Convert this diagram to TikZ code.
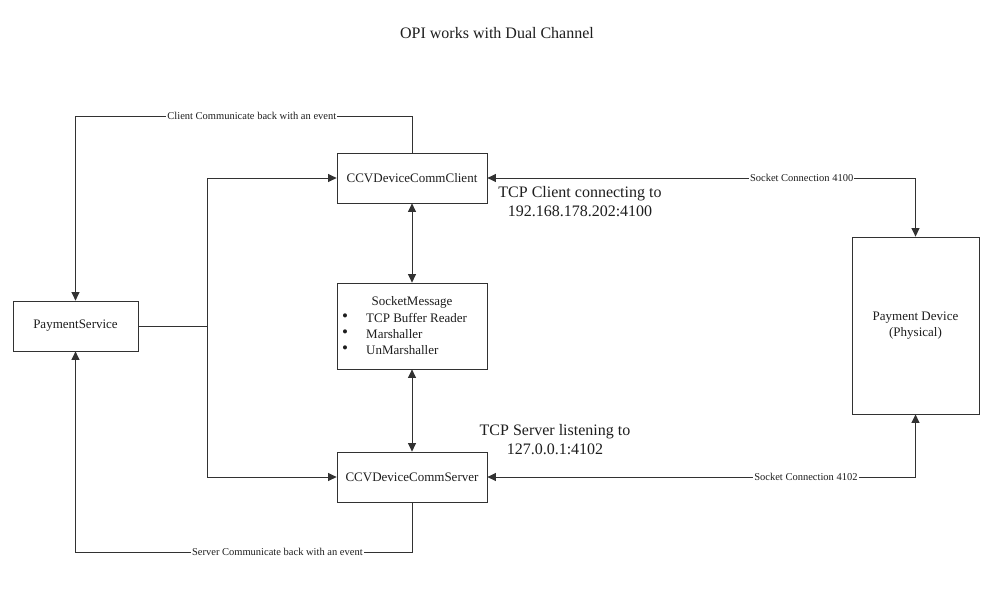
\documentclass[tikz,border=0pt]{standalone}
\usepackage{fontspec}
\setmainfont{Liberation Serif}
\usetikzlibrary{arrows.meta}
\definecolor{linec}{RGB}{50,50,50}
\definecolor{txtc}{RGB}{30,30,30}
\begin{document}
\begin{tikzpicture}[x=1pt,y=-1pt,
  box/.style={draw=linec,line width=0.8pt,fill=white,minimum width=150pt,minimum height=50pt,inner sep=0pt,text=txtc,font=\fontsize{13}{16}\selectfont},
  conn/.style={draw=linec,line width=1pt},
  arr/.style={conn,-{Triangle[length=8.5pt,width=8pt]}},
  darr/.style={conn,{Triangle[length=8.5pt,width=8pt]}-{Triangle[length=8.5pt,width=8pt]}},
  lbl/.style={fill=white,inner sep=1pt,text=txtc,font=\fontsize{10.5}{12}\selectfont},
  big/.style={text=txtc,align=center,font=\fontsize{16}{19}\selectfont},
  txt/.style={text=txtc,inner sep=0pt,font=\fontsize{13}{16}\selectfont},
  bul/.style={text=txtc,inner sep=0pt,text height=4pt,text depth=0pt,font=\fontsize{17}{16}\selectfont}]
\useasboundingbox[fill=white] (0,0) rectangle (1008,597);

\node[big] (title) at (497,33) {OPI works with Dual Channel};

\node[box,minimum width=125pt] (ps) at (75.5,326) {PaymentService};
\node[box] (client) at (412,178) {CCVDeviceCommClient};
\node[box,minimum height=86pt] (sm) at (412,326) {};
\node[box] (server) at (412,477) {CCVDeviceCommServer};
\node[box,minimum width=127pt,minimum height=177pt,align=center] (dev) at (915.5,325.5) {Payment Device\\(Physical)};

\node[txt] (smt) at (412,302) {SocketMessage};
\node[bul] (b1) at (345,319) {•};
\node[txt,anchor=west] (l1) at (366,318) {TCP Buffer Reader};
\node[bul] (b2) at (345,335) {•};
\node[txt,anchor=west] (l2) at (366,334) {Marshaller};
\node[bul] (b3) at (345,351) {•};
\node[txt,anchor=west] (l3) at (366,350) {UnMarshaller};

\node[big] (tcpc) at (580,202) {TCP Client connecting to\\192.168.178.202:4100};
\node[big] (tcps) at (555,440) {TCP Server listening to\\127.0.0.1:4102};

\coordinate (j) at (207,326);
\coordinate (t1) at (412,116);
\coordinate (t2) at (75.5,116);
\coordinate (u1) at (412,552);
\coordinate (u2) at (75.5,552);
\coordinate (s1) at (915.5,178);
\coordinate (s2) at (915.5,477);

\draw[conn] (ps.east) -- (j);
\draw[arr] (j) |- (client.west);
\draw[arr] (j) |- (server.west);

\draw[arr] (client.north) -- (t1) -- node[lbl,pos=0.476] (lc) {Client Communicate back with an event} (t2) -- (ps.north);
\draw[arr] (server.south) -- (u1) -- node[lbl,pos=0.40] (ls) {Server Communicate back with an event} (u2) -- (ps.south);

\draw[darr] (client.south) -- (sm.north);
\draw[darr] (sm.south) -- (server.north);

\draw[darr] (dev.north) -- (s1) -- node[lbl,pos=0.266] (l4100) {Socket Connection 4100} (client.east);
\draw[darr] (dev.south) -- (s2) -- node[lbl,pos=0.256] (l4102) {Socket Connection 4102} (server.east);
\end{tikzpicture}
\end{document}
